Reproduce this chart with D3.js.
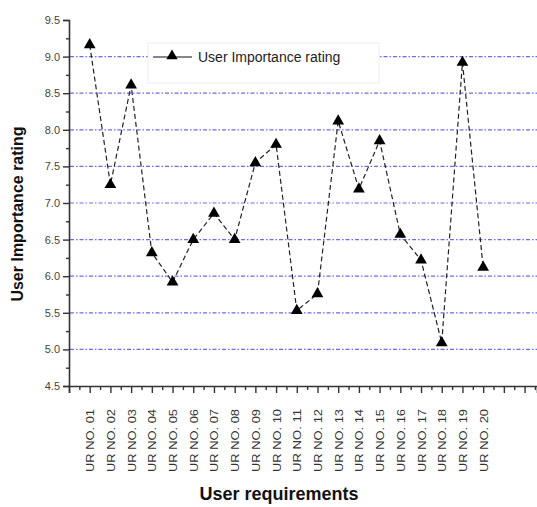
<!DOCTYPE html>
<html>
<head>
<meta charset="utf-8">
<script src="https://cdn.jsdelivr.net/npm/d3@7"></script>
<style>
  body { margin: 0; background: #fff; }
  svg { display: block; font-family: "Liberation Sans", Arial, sans-serif; }
</style>
</head>
<body>
<div id="wrapper"></div>
<script>
// categories and values
const requirements = ["UR NO. 01", "UR NO. 02", "UR NO. 03", "UR NO. 04", "UR NO. 05",
    "UR NO. 06", "UR NO. 07", "UR NO. 08", "UR NO. 09", "UR NO. 10",
    "UR NO. 11", "UR NO. 12", "UR NO. 13", "UR NO. 14", "UR NO. 15",
    "UR NO. 16", "UR NO. 17", "UR NO. 18", "UR NO. 19", "UR NO. 20"];
const ratings = [9.16, 7.25, 8.61, 6.32, 5.92, 6.5, 6.86, 6.5, 7.55, 7.8,
    5.53, 5.76, 8.12, 7.19, 7.85, 6.57, 6.22, 5.09, 8.92, 6.12];
const yTicks = [4.5, 5.0, 5.5, 6.0, 6.5, 7.0, 7.5, 8.0, 8.5, 9.0, 9.5];
const gridValues = [5.0, 5.5, 6.0, 6.5, 7.0, 7.5, 8.0, 8.5, 9.0];
const seriesName = "User Importance rating";

function buildPlot() {
    const dimension = {
        width: 537,
        height: 507,
        margin: { top: 20, left: 69, bottom: 121, right: 0 }
    };
    dimension.boundedHeight = dimension.height - dimension.margin.top - dimension.margin.bottom;

    const svg = d3.select("#wrapper").append("svg")
        .attr("width", dimension.width)
        .attr("height", dimension.height);

    const yScaler = d3.scaleLinear()
        .domain([4.5, 9.5])
        .range([dimension.margin.top + dimension.boundedHeight, dimension.margin.top]);

    const xScaler = d3.scaleLinear()
        .domain([0, 22.6])
        .range([dimension.margin.left, dimension.width]);

    const y0 = yScaler(4.5);

    // grid lines
    svg.append("g")
        .selectAll("line")
        .data(gridValues)
        .join("line")
        .attr("x1", dimension.margin.left + 1)
        .attr("x2", dimension.width)
        .attr("y1", d => yScaler(d))
        .attr("y2", d => yScaler(d))
        .attr("stroke", "#6a6af2")
        .attr("stroke-width", 1.2)
        .attr("stroke-dasharray", "4,2,1.5,2");

    // y axis
    const yAxis = d3.axisLeft(yScaler)
        .tickValues(yTicks)
        .tickFormat(d3.format(".1f"))
        .tickSize(6)
        .tickPadding(3);
    const gy = svg.append("g")
        .attr("transform", `translate(${dimension.margin.left},0)`)
        .call(yAxis);
    gy.select(".domain").attr("stroke", "#333").attr("stroke-width", 1.6);
    gy.selectAll(".tick line").attr("stroke", "#333").attr("stroke-width", 1.4);
    gy.selectAll(".tick text").attr("font-size", 11).attr("fill", "#444");

    const yMinor = d3.axisLeft(yScaler)
        .tickValues(d3.range(4.75, 9.5, 0.5))
        .tickSize(3)
        .tickFormat("");
    svg.append("g")
        .attr("transform", `translate(${dimension.margin.left},0)`)
        .call(yMinor)
        .call(g => g.select(".domain").remove())
        .selectAll(".tick line").attr("stroke", "#333").attr("stroke-width", 1.4);

    // x axis
    const xAxis = d3.axisBottom(xScaler)
        .tickValues(d3.range(0, 23))
        .tickSize(7)
        .tickFormat(d => (d >= 1 && d <= requirements.length) ? requirements[d - 1] : "");
    const gx = svg.append("g")
        .attr("transform", `translate(0,${y0})`)
        .call(xAxis);
    gx.select(".domain").attr("stroke", "#333").attr("stroke-width", 1.6);
    gx.selectAll(".tick line").attr("stroke", "#333").attr("stroke-width", 1.4);
    gx.selectAll(".tick text")
        .attr("font-size", 11.5)
        .attr("fill", "#333")
        .attr("text-anchor", "end")
        .attr("dy", "0.35em")
        .attr("transform", "translate(0,23) rotate(-90)")
        .attr("y", 0)
        .attr("x", 0)
        .attr("textLength", 63)
        .attr("lengthAdjust", "spacingAndGlyphs");

    const xMinor = d3.axisBottom(xScaler)
        .tickValues(d3.range(0.5, 22.6, 1))
        .tickSize(4)
        .tickFormat("");
    svg.append("g")
        .attr("transform", `translate(0,${y0})`)
        .call(xMinor)
        .call(g => g.select(".domain").remove())
        .selectAll(".tick line").attr("stroke", "#333").attr("stroke-width", 1.4);

    // legend
    const legend = svg.append("g");
    legend.append("rect")
        .attr("x", 148).attr("y", 43)
        .attr("width", 231).attr("height", 40)
        .attr("fill", "#fff")
        .attr("stroke", "#ededed");
    legend.append("line")
        .attr("x1", 153).attr("x2", 192)
        .attr("y1", 57).attr("y2", 57)
        .attr("stroke", "#111").attr("stroke-width", 1.2);
    legend.append("path")
        .attr("d", d3.symbol(d3.symbolTriangle, 55)())
        .attr("transform", "translate(172,56)")
        .attr("fill", "#000");
    legend.append("text")
        .attr("x", 198).attr("y", 62)
        .attr("font-size", 14)
        .attr("fill", "#222")
        .text(seriesName);

    // data line
    const lineGenerator = d3.line()
        .x((d, i) => xScaler(i + 1))
        .y(d => yScaler(d));

    svg.append("path")
        .attr("d", lineGenerator(ratings))
        .attr("fill", "none")
        .attr("stroke", "#222")
        .attr("stroke-width", 1.2)
        .attr("stroke-dasharray", "5,3");

    svg.append("g")
        .selectAll("path")
        .data(ratings)
        .join("path")
        .attr("d", d3.symbol(d3.symbolTriangle, 60)())
        .attr("transform", (d, i) => `translate(${xScaler(i + 1)},${yScaler(d)})`)
        .attr("fill", "#000");

    // axis titles
    svg.append("text")
        .attr("transform", `translate(17,214) rotate(-90)`)
        .attr("dy", "0.35em")
        .attr("text-anchor", "middle")
        .attr("font-size", 16)
        .attr("font-weight", "bold")
        .attr("fill", "#111")
        .text("User Importance rating");

    svg.append("text")
        .attr("x", 279)
        .attr("y", 500)
        .attr("text-anchor", "middle")
        .attr("font-size", 18)
        .attr("font-weight", "bold")
        .attr("fill", "#111")
        .text("User requirements");
}

buildPlot();
</script>
</body>
</html>
